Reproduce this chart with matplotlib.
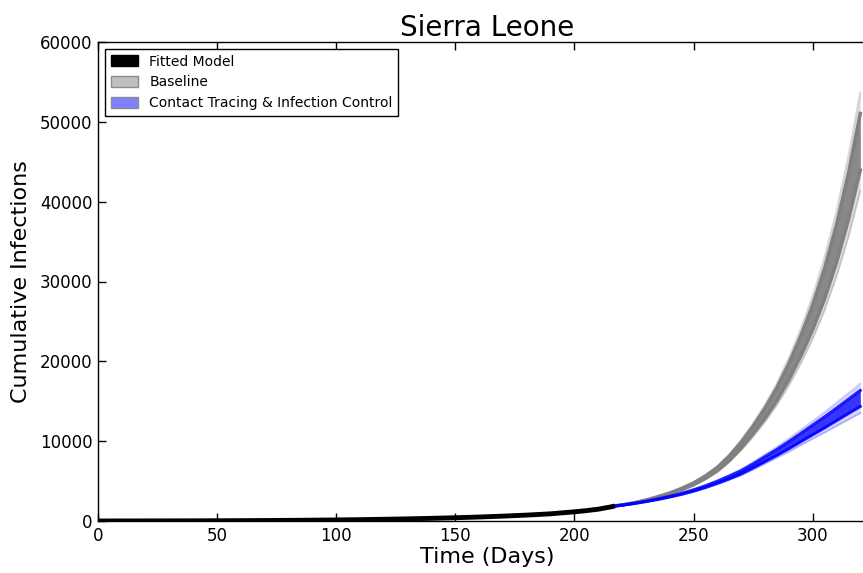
import matplotlib
matplotlib.use("Agg")
import matplotlib.pyplot as plt
from matplotlib.patches import Patch

# Fitted model (cumulative infections, days 0-217)
fit_days = [0, 10, 20, 30, 40, 50, 60, 70, 80, 90, 100, 110, 120, 130, 140,
            150, 160, 170, 180, 190, 200, 205, 210, 215, 217]
fit_vals = [5, 8, 12, 17, 24, 33, 45, 60, 80, 105, 135, 170, 215, 270, 335,
            410, 500, 610, 740, 900, 1150, 1300, 1480, 1750, 1880]

# Projection days
proj_days = [217, 220, 225, 230, 235, 240, 245, 250, 255, 260, 265, 270,
             275, 280, 285, 290, 295, 300, 305, 310, 315, 320]

# Baseline ensemble: outer envelope and dense core
base_lo = [1890, 1992, 2237, 2557, 2932, 3350, 3858, 4457, 5217, 6148, 7374, 8864,
           10566, 12425, 14536, 16976, 19745, 22828, 26403, 30626, 35582, 41325]
base_core_lo = [1890, 1996, 2247, 2575, 2961, 3392, 3918, 4538, 5328, 6297, 7575, 9133,
                10919, 12880, 15113, 17705, 20656, 23957, 27799, 32351, 37705, 43940]
base_core_hi = [1890, 2004, 2273, 2625, 3039, 3508, 4082, 4762, 5632, 6703, 8125, 9867,
                11881, 14120, 16687, 19695, 23144, 27043, 31601, 37049, 43495, 51060]
base_hi = [1890, 2008, 2283, 2643, 3068, 3550, 4142, 4843, 5743, 6852, 8326, 10136,
           12234, 14575, 17264, 20424, 24055, 28172, 32997, 38774, 45618, 53675]

# Contact tracing & infection control ensemble
ctrl_lo = [1880, 1983, 2180, 2410, 2670, 2960, 3290, 3670, 4110, 4610, 5150, 5720,
           6430, 7180, 7920, 8690, 9500, 10300, 11080, 11900, 12710, 13510]
ctrl_core_lo = [1880, 1986, 2190, 2430, 2700, 3000, 3340, 3740, 4200, 4720, 5280, 5900,
                6650, 7440, 8230, 9060, 9940, 10800, 11660, 12570, 13460, 14350]
ctrl_core_hi = [1880, 1994, 2210, 2470, 2760, 3080, 3460, 3900, 4400, 4980, 5620, 6300,
                7150, 8060, 8970, 9940, 10960, 12000, 13040, 14130, 15240, 16350]
ctrl_hi = [1880, 1997, 2220, 2490, 2790, 3120, 3510, 3970, 4490, 5090, 5750, 6480,
           7370, 8320, 9280, 10310, 11400, 12500, 13620, 14800, 15990, 17190]

x_ticks = [0, 50, 100, 150, 200, 250, 300]
y_ticks = [0, 10000, 20000, 30000, 40000, 50000, 60000]

fig = plt.figure(figsize=(8.63, 5.73), dpi=100, facecolor="white")
# the axes run slightly past the right edge of the canvas
ax = fig.add_axes([98 / 863, 1 - 521 / 573, (876 - 98) / 863, (521 - 42) / 573])

# Baseline bundle
ax.fill_between(proj_days, base_lo, base_hi, color="#808080", alpha=0.25, lw=0)
ax.fill_between(proj_days, base_core_lo, base_core_hi, color="#808080", alpha=0.9, lw=0)
for edge in (base_lo, base_hi):
    ax.plot(proj_days, edge, color="#808080", alpha=0.3, lw=1.5)
ax.plot(proj_days, base_core_lo, color="#808080", lw=2.5)
ax.plot(proj_days, base_core_hi, color="#808080", lw=2.5)

# Intervention bundle
ax.fill_between(proj_days, ctrl_lo, ctrl_hi, color="#0000ff", alpha=0.15, lw=0)
ax.fill_between(proj_days, ctrl_core_lo, ctrl_core_hi, color="#0000ff", alpha=0.75, lw=0)
for edge in (ctrl_lo, ctrl_hi):
    ax.plot(proj_days, edge, color="#0000ff", alpha=0.2, lw=1.5)
ax.plot(proj_days, ctrl_core_lo, color="#0000ff", alpha=0.85, lw=2.2)
ax.plot(proj_days, ctrl_core_hi, color="#0000ff", alpha=0.85, lw=2.2)

# Fitted model
ax.plot(fit_days, fit_vals, color="black", lw=3.5, solid_capstyle="butt")

ax.set_xlim(0, 326.6)
ax.set_ylim(0, 60000)
ax.set_xticks(x_ticks)
ax.set_yticks(y_ticks)
ax.tick_params(direction="in", top=True, right=True, length=6, width=1,
               labelsize=12, pad=4)
for s in ax.spines.values():
    s.set_linewidth(1.0)

ax.set_title("Sierra Leone", fontsize=20, pad=4)
ax.set_xlabel("Time (Days)", fontsize=16, labelpad=2)
ax.set_ylabel("Cumulative Infections", fontsize=16, labelpad=6)

handles = [
    Patch(facecolor="black", edgecolor="black", label="Fitted Model"),
    Patch(facecolor="#bfbfbf", edgecolor="#8c8c8c", label="Baseline"),
    Patch(facecolor="#8080ff", edgecolor="#8c8c8c", label="Contact Tracing & Infection Control"),
]
leg = ax.legend(handles=handles, loc="upper left", fontsize=10, fancybox=False,
                framealpha=1, edgecolor="black", borderaxespad=0.5,
                handlelength=2.0, handleheight=0.9, labelspacing=0.5,
                borderpad=0.4)
leg.get_frame().set_linewidth(1.0)

fig.savefig("out.png", dpi=100, facecolor="white")
